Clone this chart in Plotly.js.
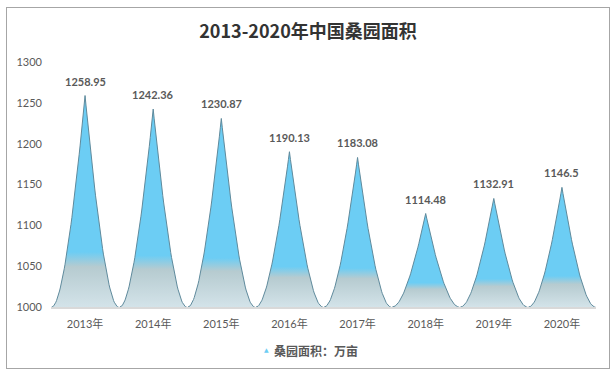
<!DOCTYPE html>
<html>
<head>
<meta charset="utf-8">
<script src="https://cdn.plot.ly/plotly-3.0.1.min.js"></script>
<style>
  html, body { margin: 0; padding: 0; background: #ffffff; }
  #wrap { position: relative; width: 616px; height: 375px; }
  #chart { width: 616px; height: 375px; }
  #frame { position: absolute; left: 6px; top: 7px; width: 604px; height: 362px;
           border: 1px solid #a6a6a6; box-sizing: border-box; pointer-events: none; }
</style>
</head>
<body>
<div id="wrap">
  <div id="chart"></div>
  <div id="frame"></div>
</div>
<script>
// ---- data ----
const years = ["2013年", "2014年", "2015年", "2016年", "2017年", "2018年", "2019年", "2020年"];
const area = [1258.95, 1242.36, 1230.87, 1190.13, 1183.08, 1114.48, 1132.91, 1146.5];
const seriesName = "桑园面积：万亩";
const titleText = "2013-2020年中国桑园面积";
const yTicks = [1000, 1050, 1100, 1150, 1200, 1250, 1300];

// ---- spike geometry (derived from data through axis scales) ----
const base = 1000;
const half = 0.49;
const ctrl = 0.4;   // bezier control position as fraction of half width
const N = 40;

function spike(i, v) {
  const xs = [], ys = [];
  const x0 = i - half;
  const c = x0 + ctrl * half;
  for (let k = 0; k <= N; k++) {
    const t = k / N;
    xs.push((1 - t) * (1 - t) * x0 + 2 * (1 - t) * t * c + t * t * i);
    ys.push((1 - t) * (1 - t) * base + 2 * (1 - t) * t * base + t * t * v);
  }
  for (let k = N - 1; k >= 0; k--) {
    xs.push(2 * i - xs[k]);
    ys.push(ys[k]);
  }
  return { xs, ys };
}

const traces = [];
area.forEach((v, i) => {
  const s = spike(i, v);
  traces.push({
    type: "scatter",
    mode: "lines",
    x: s.xs,
    y: s.ys,
    fill: "toself",
    fillgradient: {
      type: "vertical",
      colorscale: [
        [0, "#d3e3e9"],
        [0.19, "#b6cbd0"],
        [0.26, "#6ccdf4"],
        [1, "#6ccdf4"]
      ]
    },
    line: { color: "#5f8a9c", width: 1 },
    hoverinfo: "skip",
    showlegend: false
  });
});

const labelFont = { family: "Lato, 'Noto Sans CJK SC', sans-serif", size: 11, color: "#595959" };

const valueLabels = area.map((v, i) => ({
  xref: "x", yref: "y",
  x: i, y: v,
  xanchor: "center", yanchor: "bottom",
  yshift: 6,
  text: "<b>" + String(v) + "</b>",
  showarrow: false,
  font: labelFont
}));

const layout = {
  width: 616,
  height: 375,
  margin: { l: 51, r: 20, t: 62, b: 68 },
  paper_bgcolor: "#ffffff",
  plot_bgcolor: "#ffffff",
  showlegend: false,
  title: {
    text: "<b>" + titleText + "</b>",
    x: 0.5, xanchor: "center",
    y: 1 - 32 / 375, yanchor: "middle",
    font: { family: "'Noto Sans CJK SC', sans-serif", size: 18, color: "#333333" }
  },
  xaxis: {
    range: [-0.5, 7.5],
    tickvals: years.map((_, i) => i),
    ticktext: years,
    showgrid: false,
    zeroline: false,
    showline: true,
    linecolor: "#d9d9d9",
    linewidth: 2,
    ticks: "",
    ticklabelstandoff: 6,
    tickfont: labelFont,
    fixedrange: true
  },
  yaxis: {
    range: [1000, 1300],
    tickvals: yTicks,
    ticktext: yTicks.map(String),
    showgrid: false,
    zeroline: false,
    showline: false,
    ticks: "",
    ticklabelstandoff: 8,
    tickfont: labelFont,
    fixedrange: true
  },
  annotations: valueLabels.concat([
    {
      xref: "paper", yref: "paper",
      x: (266.5 - 51) / 545, y: (307 - 349) / 245,
      xanchor: "center", yanchor: "middle",
      text: "▲", showarrow: false,
      font: { family: "DejaVu Sans", size: 6, color: "#6ccdf4" }
    },
    {
      xref: "paper", yref: "paper",
      x: (272 - 51) / 545, y: (307 - 350) / 245,
      xanchor: "left", yanchor: "middle",
      text: "<b>" + seriesName + "</b>", showarrow: false,
      font: { family: "'Noto Sans CJK SC', sans-serif", size: 12, color: "#595959" }
    }
  ])
};

Plotly.newPlot("chart", traces, layout, { displayModeBar: false, staticPlot: true });
</script>
</body>
</html>
